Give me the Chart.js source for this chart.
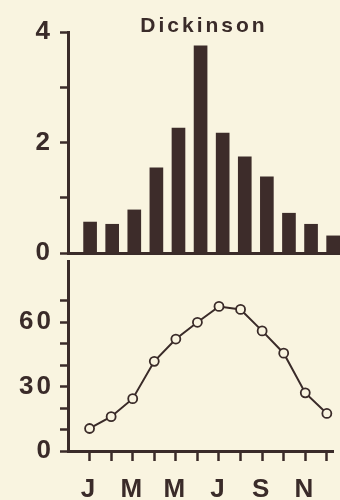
<!DOCTYPE html>
<html><head><meta charset="utf-8">
<script src="https://cdn.jsdelivr.net/npm/chart.js@4"></script>
<style>
html,body{margin:0;padding:0;background:#f9f4e0;}
#wrap{position:relative;width:340px;height:500px;overflow:hidden;background:#f9f4e0;}
canvas{position:absolute;left:0;}
#c1{top:0;}
#c2{top:240px;}
</style></head><body>
<div id="wrap">
<canvas id="c1" width="340" height="280"></canvas>
<canvas id="c2" width="340" height="260"></canvas>
</div>
<script>
const titleText = 'Dickinson';
const months = ['J','F','M','A','M','J','J','A','S','O','N','D'];
const xTickLabels = ['J','','M','','M','','J','','S','','N',''];
const precip = [0.56,0.52,0.78,1.54,2.26,3.75,2.17,1.74,1.38,0.72,0.52,0.31];
const temp = [10.5,16,24.4,41.8,52.2,60,67.4,66,56,45.6,27.1,17.5];
const precipTickLabels = [0,2,4];
const tempTickLabels = [0,30,60];

const ink = '#3a2b29';
const bg = '#f9f4e0';
const fam = '"Liberation Sans", Arial, sans-serif';
const spacing = {id:'ls', beforeDraw(c){ c.ctx.letterSpacing = '3px'; }};

new Chart(document.getElementById('c1'), {
  type: 'bar',
  data: { datasets: [{
    data: precip.map((v,i)=>({x:i+1, y:v})),
    backgroundColor: '#3d2c2a',
    barThickness: 13
  }]},
  options: {
    animation: false, responsive: false, devicePixelRatio: 1,
    layout: { padding: { top: 1, left: 0, right: 0, bottom: 0 } },
    plugins: {
      legend: { display: false }, tooltip: { enabled: false },
      title: { display: true, text: titleText, fullSize: false, color: ink,
        font: { family: fam, size: 21, weight: 'bold', lineHeight: 1 },
        padding: { top: 15, bottom: -5 } }
    },
    scales: {
      x: { type: 'linear', min: 0, max: 12.31, offset: false,
        ticks: { display: false }, grid: { display: false, offset: false },
        border: { display: true, color: ink, width: 3 },
        afterFit(s){ s.height = 27; } },
      y: { min: 0, max: 4,
        ticks: { stepSize: 1, autoSkip: false, color: ink, padding: 7,
          font: { family: fam, size: 26, weight: 'bold' },
          callback: v => precipTickLabels.includes(Math.round(v*1000)/1000) ? String(Math.round(v)) : '' },
        grid: { drawOnChartArea: false, tickLength: 8, tickWidth: 2.5, tickColor: ink },
        border: { color: ink, width: 3 },
        afterFit(s){ s.width = 68; } }
    }
  },
  plugins: [spacing]
});

new Chart(document.getElementById('c2'), {
  type: 'line',
  data: { datasets: [{
    data: temp.map((v,i)=>({x:i+1, y:v})),
    borderColor: ink, borderWidth: 2, tension: 0,
    pointRadius: 4.5, pointBorderWidth: 1.8,
    pointBackgroundColor: bg, pointBorderColor: ink
  }]},
  options: {
    animation: false, responsive: false, devicePixelRatio: 1,
    layout: { padding: { top: 13, left: 0, right: 0, bottom: 0 } },
    plugins: { legend: { display: false }, tooltip: { enabled: false } },
    scales: {
      x: { type: 'linear', min: 0, max: 12.31, offset: false,
        afterBuildTicks(s){ s.ticks = months.map((m,i)=>({value:i+1})); },
        ticks: { autoSkip: false, maxRotation: 0, color: ink, padding: 13,
          font: { family: fam, size: 26, weight: 'bold' },
          callback: (v,i) => xTickLabels[i] },
        grid: { drawOnChartArea: false, tickLength: 10, tickWidth: 2.5, tickColor: ink },
        border: { color: ink, width: 3 },
        afterFit(s){ s.height = 49; } },
      y: { min: 0, max: 88.3,
        afterBuildTicks(s){ s.ticks = s.ticks.filter(t => Math.abs(t.value - Math.round(t.value/10)*10) < 1e-6); },
        ticks: { stepSize: 10, autoSkip: false, color: ink, padding: 6,
          font: { family: fam, size: 26, weight: 'bold' },
          callback: v => tempTickLabels.includes(Math.round(v)) ? String(Math.round(v)) : '' },
        grid: { drawOnChartArea: false, tickLength: 8, tickWidth: 2.5, tickColor: ink },
        border: { color: ink, width: 3 },
        afterFit(s){ s.width = 68; } }
    }
  },
  plugins: [spacing]
});
</script>
</body></html>
